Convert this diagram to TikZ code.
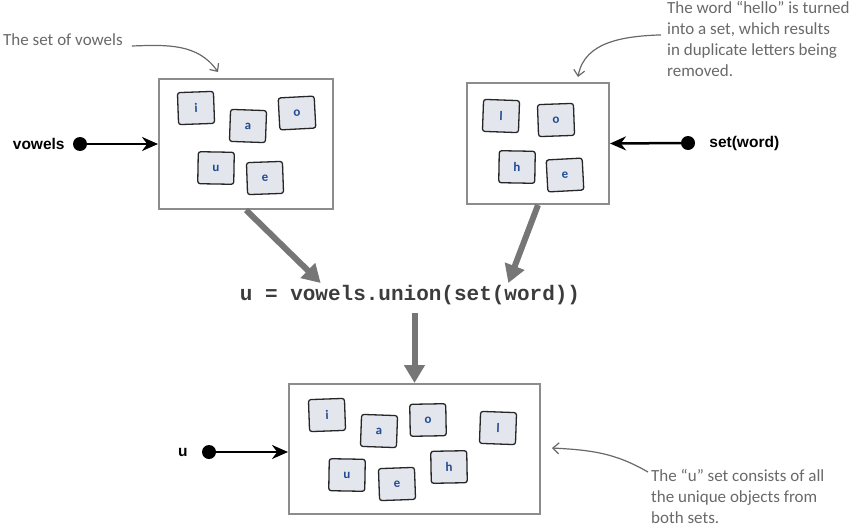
\documentclass[tikz,border=0pt]{standalone}
\usepackage{fontspec}
\setmainfont{Liberation Sans}
\newfontfamily\handfont{Carlito}
\newfontfamily\codefont{Liberation Mono}
\usetikzlibrary{arrows.meta,positioning,calc}
\definecolor{boxgray}{RGB}{140,140,140}
\definecolor{flowgray}{RGB}{118,118,118}
\definecolor{notegray}{RGB}{105,105,105}
\definecolor{tilefill}{RGB}{228,230,238}
\definecolor{letterblue}{RGB}{35,75,145}
\definecolor{codegray}{RGB}{60,60,60}
\tikzset{
    setbox/.style={rectangle, draw=boxgray, line width=2pt, fill=white, inner sep=0pt},
    tile/.style={rectangle, rounded corners=2.5pt, draw=black!85, line width=1.3pt, fill=tilefill, minimum width=36pt, minimum height=32pt, inner sep=0pt, text=letterblue, font=\handfont\bfseries\fontsize{13}{13}\selectfont},
    refdot/.style={circle, fill=black, minimum size=14pt, inner sep=0pt},
    ptr/.style={line width=2.5pt, -{Stealth[length=16pt,width=14pt]}},
    flow/.style={draw=flowgray, line width=6pt, -{Triangle[length=18pt,width=20pt]}},
    note/.style={text=notegray, font=\handfont\fontsize{17}{21}\selectfont, align=left, inner sep=0pt},
    notearrow/.style={draw=notegray, line width=1.2pt, -{Straight Barb[length=6pt,width=11pt]}},
    varname/.style={font=\bfseries\fontsize{15.5}{18}\selectfont, inner sep=0pt},
}
\begin{document}
\begin{tikzpicture}[x=1pt, y=-1pt]
    \useasboundingbox (0,0) rectangle (853,532);

    % the three sets
    \node[setbox, minimum width=174pt, minimum height=130pt] (vowels) at (246,144) {};
    \node[setbox, minimum width=142pt, minimum height=121pt] (word) at (538,143.5) {};
    \node[setbox, minimum width=251pt, minimum height=130pt] (union) at (414.5,449) {};

    % tiles in each set
    \foreach \x/\y/\l/\r [count=\i] in {196/108/i/2, 248/126/a/-2, 297/113/o/3, 216/168/u/-1, 265/178/e/2} {
        \node[tile, rotate=\r] (V\i) at (\x,\y) {\l};
    }
    \foreach \x/\y/\l/\r [count=\i] in {501/116/l/-2, 556/120/o/2, 517/167/h/-1, 565/175/e/3} {
        \node[tile, rotate=\r] (W\i) at (\x,\y) {\l};
    }
    \foreach \x/\y/\l/\r [count=\i] in {327/415/i/2, 379/431/a/-2, 428/420/o/1, 498/428/l/-2, 347/475/u/-1, 397/484/e/2, 449/467/h/1} {
        \node[tile, rotate=\r] (U\i) at (\x,\y) {\l};
    }

    % variables pointing at the sets
    \node[refdot] (vdot) at (80,144) {};
    \node[varname, left=8pt of vdot] (vlabel) {vowels};
    \draw[ptr] (vdot.center) -- (vowels.west);

    \node[refdot] (sdot) at (688,143) {};
    \node[varname, right=14pt of sdot] (slabel) {set(word)};
    \draw[ptr] (sdot.center) -- (word.east);

    \node[refdot] (udot) at (209,452) {};
    \node[varname, left=14pt of udot] (ulabel) {u};
    \draw[ptr] (udot.center) -- (union.west |- udot);

    % the union call
    \node[inner sep=2pt, text=codegray, font=\codefont\bfseries\fontsize{21}{24}\selectfont] (code) at (410,295) {u = vowels.union(set(word))};
    \draw[flow] (vowels.south) -- ([xshift=83pt]code.north west);
    \draw[flow] (word.south) -- ([xshift=-74pt]code.north east);
    \draw[flow, shorten <=6pt] (code.south -| union.north) -- (union.north);

    % notes
    \node[note, anchor=west] (vnote) at (3,40) {The set of vowels};
    \coordinate (vtip) at (218,72);
    \draw[notearrow] ([xshift=9pt,yshift=-6pt]vnote.east) to[out=2, in=125] (vtip);

    \node[note, anchor=north west] (wnote) at (667,1) {The word “hello” is turned\\into a set, which results\\in duplicate letters being\\removed.};
    \coordinate (wtip) at (578,77);
    \draw[notearrow] ([xshift=-6pt,yshift=4pt]wnote.west) to[out=182, in=80] (wtip);

    \node[note, anchor=north west] (unote) at (651,469) {The “u” set consists of all\\the unique objects from\\both sets.};
    \coordinate (utip) at (552,448);
    \draw[notearrow] ([xshift=-3pt,yshift=-3pt]unote.north west) to[out=150, in=-3] (utip);
\end{tikzpicture}
\end{document}
